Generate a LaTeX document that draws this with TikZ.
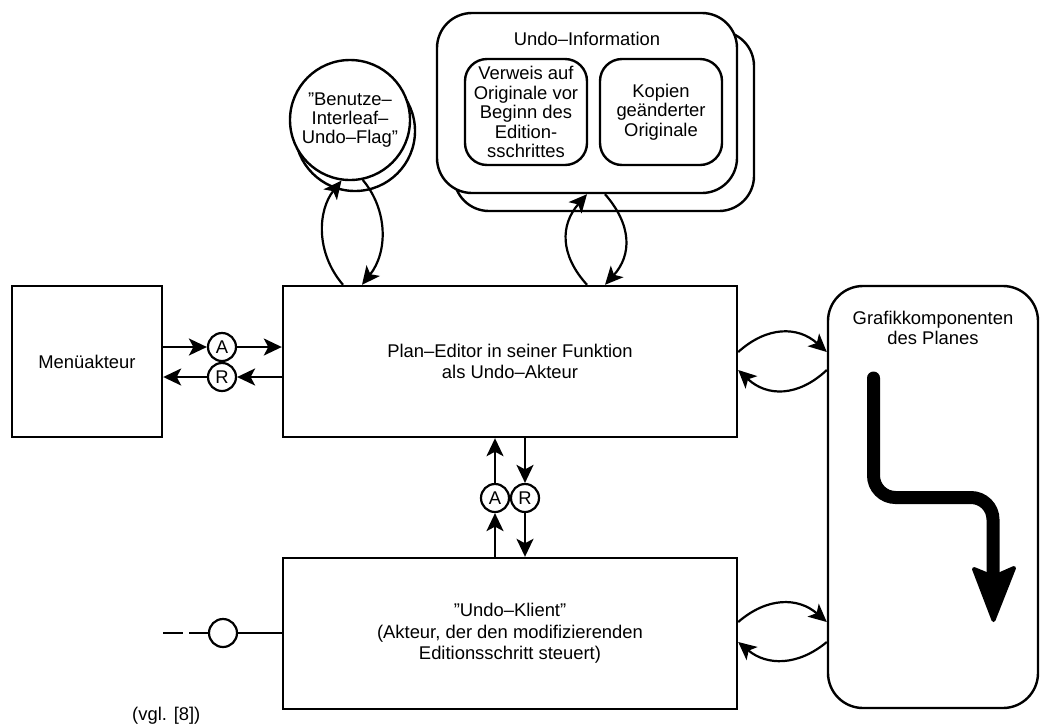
\documentclass[tikz,border=0pt]{standalone}
\usepackage{fontspec}
\setmainfont{Liberation Sans}
\usetikzlibrary{arrows.meta}
\begin{document}
\begin{tikzpicture}[x=1pt,y=-1pt,
  font=\fontsize{18.4}{21.5}\selectfont,
  box/.style={draw,line width=2.4pt,inner sep=0pt,align=center},
  port/.style={draw,circle,line width=2.2pt,fill=white,minimum size=28pt,inner sep=0pt},
  arr/.style={line width=2.2pt,-{Stealth[length=18pt,width=17pt,inset=4.5pt]}},
  lbl/.style={inner sep=0pt,align=center},
  tight/.style={font=\fontsize{18.4}{19.5}\selectfont}]
\useasboundingbox (0,0) rectangle (1042,724);

% main blocks
\node[box,minimum width=150pt,minimum height=151pt] (menu) at (87,361.5) {Menüakteur};
\node[box,minimum width=454pt,minimum height=151pt] (pe) at (510,361.5)
  {Plan–Editor in seiner Funktion\\als Undo–Akteur};
\node[box,minimum width=454pt,minimum height=151pt] (uk) at (510,633.5)
  {”Undo–Klient”\\(Akteur, der den modifizierenden\\Editionsschritt steuert)};

% graphic components with the flow arrow
\node[box,rounded corners=35pt,minimum width=210pt,minimum height=422pt] (graf) at (933,497) {};
\node[lbl,tight,anchor=north] (graflbl) at (933,311) {Grafikkomponenten\\des Planes};
\draw[line width=13pt,rounded corners=22pt,line cap=round]
  (873.5,378) -- (873.5,497.5) -- (993,497.5) -- (993,575);
\filldraw[line width=4pt,line join=round]
  (974,569) -- (993.5,577) -- (1014,568) -- (993.5,620) -- cycle;

% undo information store
\node[box,rounded corners=35pt,fill=white,minimum width=300pt,minimum height=180pt] (uiback) at (604,121) {};
\node[box,rounded corners=35pt,fill=white,minimum width=300pt,minimum height=180pt] (ui) at (587,103) {};
\node[lbl] (uititle) at (587,39) {Undo–Information};
\node[box,tight,rounded corners=22pt,minimum width=122pt,minimum height=106pt] (verw) at (526,112)
  {Verweis auf\\Originale vor\\Beginn des\\Edition-\\sschrittes};
\node[box,tight,rounded corners=22pt,minimum width=122pt,minimum height=106pt] (kop) at (661,112)
  {Kopien\\geänderter\\Originale};

% interleaf flag
\node[draw,circle,line width=2.4pt,fill=white,minimum size=120pt,inner sep=0pt] (flagback) at (355,131) {};
\node[draw,circle,line width=2.4pt,fill=white,minimum size=120pt,inner sep=0pt,align=center,
  font=\fontsize{18.4}{19}\selectfont] (flag) at (350,120) {”Benutze–\\Interleaf–\\Undo–Flag”};

% ports
\node[port] (ma) at (222,347) {A};
\node[port] (mr) at (222,377) {R};
\node[port] (va) at (495,498) {A};
\node[port] (vr) at (525,498) {R};
\node[port] (kc) at (223,633) {};
\coordinate (kend) at (163,633);

% menu actor <-> plan editor
\draw[arr] (menu.east |- ma) -- (ma.west);
\draw[arr] (ma.east) -- (pe.west |- ma);
\draw[arr] (pe.west |- mr) -- (mr.east);
\draw[arr] (mr.west) -- (menu.east |- mr);

% plan editor <-> undo client
\draw[arr] (uk.north -| va) -- (va.south);
\draw[arr] (va.north) -- (pe.south -| va);
\draw[arr] (pe.south -| vr) -- (vr.north);
\draw[arr] (vr.south) -- (uk.north -| vr);

% undo client input
\draw[line width=2.2pt] (kc.east) -- (uk.west |- kc);
\draw[line width=2.2pt,dash pattern=on 20pt off 6pt] (kend) -- (kc.west);

% flag <-> plan editor
\draw[arr] ([xshift=-167pt]pe.north) .. controls (315,252) and (318,210) .. (flag.262);
\draw[arr] (flag.282) .. controls (388,210) and (388,252) .. ([xshift=-148pt]pe.north);

% undo information <-> plan editor
\draw[arr] ([xshift=77pt]pe.north) .. controls (560,255) and (560,225) .. (ui.south);
\draw[arr] ([xshift=18pt]ui.south) .. controls (632,225) and (632,255) .. ([xshift=95pt]pe.north);

% plan editor / undo client <-> graphic components
\coordinate (pe1) at ([yshift=9.5pt]pe.east);
\coordinate (pe2) at ([yshift=-8.5pt]pe.east);
\coordinate (uk1) at ([yshift=11.5pt]uk.east);
\coordinate (uk2) at ([yshift=-8.5pt]uk.east);
\draw[arr] (pe1) .. controls (767,326) and (798,326) .. (pe1 -| graf.west);
\draw[arr] (pe2 -| graf.west) .. controls (798,397) and (767,397) .. (pe2);
\draw[arr] (uk1) .. controls (767,597) and (798,597) .. (uk1 -| graf.west);
\draw[arr] (uk2 -| graf.west) .. controls (798,666) and (767,666) .. (uk2);

% reference
\node[lbl,anchor=base west] (vgl) at (132,720) {(vgl. [8])};
\end{tikzpicture}
\end{document}
